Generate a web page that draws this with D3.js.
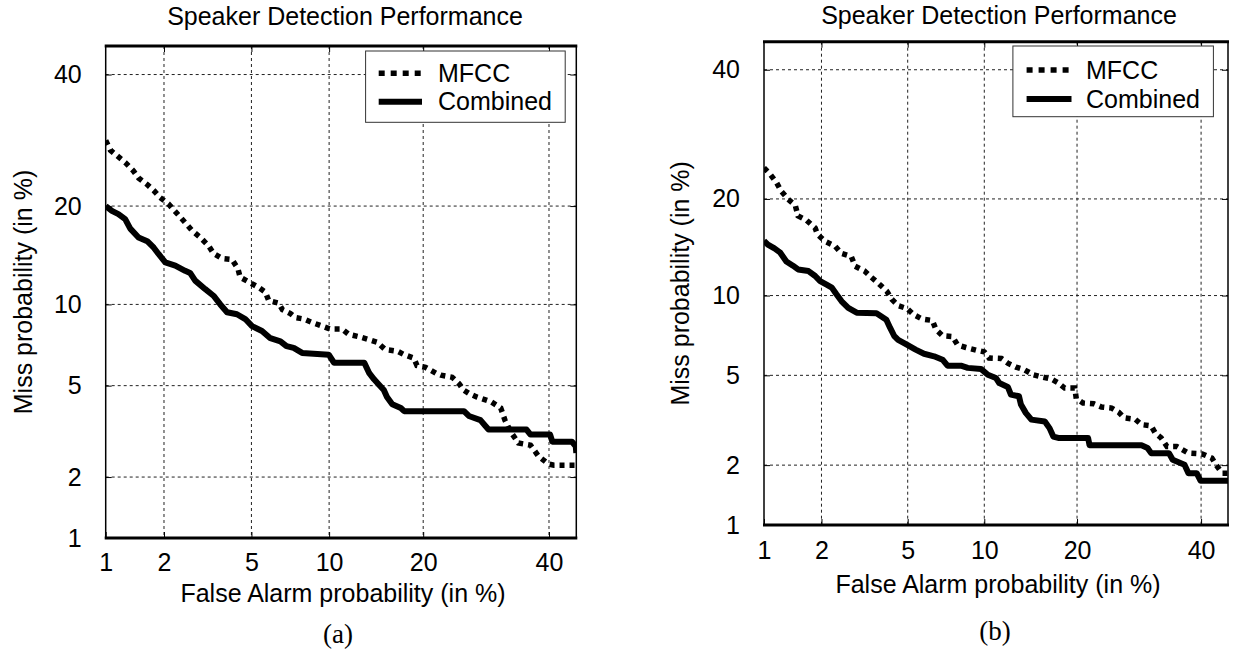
<!DOCTYPE html>
<html lang="en">
<head>
  <meta charset="UTF-8">
  <title>Speaker Detection Performance</title>
  <script src="https://cdn.jsdelivr.net/npm/d3@7"></script>
  <style>
    body { margin: 0; background: #fff; }
    svg { display: block; font-family: "Liberation Sans", Arial, Helvetica, sans-serif; }
    .tick text { font-size: 25px; fill: #000; }
    .grid line { stroke: #222; stroke-width: 1; stroke-dasharray: 3,3; }
  </style>
</head>
<body>
<svg id="chart" width="1233" height="656"></svg>
<script>
const tickValues = [1, 2, 5, 10, 20, 40];
const gridValues = [2, 5, 10, 20, 40];
const axisMin = 1, axisMax = 45;
const legendNames = ["MFCC", "Combined"];
const titleText = "Speaker Detection Performance";
const xLabelText = "False Alarm probability (in %)";
const yLabelText = "Miss probability (in %)";

// [false alarm %, miss %]
const mfccA = [[1.0,29.2],[1.06,27.7],[1.27,25.9],[1.40,24.7],[1.49,23.7],[1.65,22.8],[1.78,22.0],[1.91,21.1],[2.10,20.3],[2.20,19.7],[2.35,18.9],[2.53,18.0],[2.72,17.1],[2.98,16.3],[3.25,15.4],[3.42,14.6],[3.73,14.1],[4.13,14.0],[4.38,13.1],[4.48,12.3],[4.95,11.8],[5.36,11.4],[5.71,11.0],[5.89,10.3],[6.45,10.1],[6.68,9.6],[7.18,9.3],[7.51,9.0],[8.07,8.9],[8.68,8.65],[9.44,8.4],[10.1,8.2],[11.1,8.2],[11.7,7.85],[12.65,7.7],[13.7,7.5],[14.5,7.35],[15.4,6.9],[16.8,6.8],[17.6,6.6],[18.8,6.4],[19.2,6.0],[20.3,5.9],[21.7,5.6],[22.4,5.5],[24.0,5.4],[25.0,5.1],[25.7,4.8],[26.5,4.65],[27.7,4.5],[30.0,4.3],[31.6,4.05],[32.3,3.6],[33.3,3.2],[34.6,2.86],[36.7,2.8],[38.1,2.5],[39.9,2.3],[40.9,2.27],[45,2.27]];
const combinedA = [[1.0,20.0],[1.08,19.4],[1.17,19.0],[1.27,18.4],[1.35,17.3],[1.49,16.3],[1.65,15.9],[1.78,15.2],[1.88,14.55],[2.03,13.7],[2.27,13.4],[2.53,12.9],[2.67,12.7],[2.82,12.0],[3.14,11.25],[3.42,10.7],[3.67,10.0],[3.93,9.4],[4.34,9.25],[4.71,8.9],[5.03,8.4],[5.53,8.07],[5.98,7.6],[6.56,7.4],[6.93,7.1],[7.39,7.0],[7.96,6.7],[9.97,6.6],[10.4,6.15],[13.2,6.15],[13.7,5.6],[14.2,5.3],[14.7,5.05],[15.25,4.8],[15.6,4.5],[16.2,4.2],[17.2,4.05],[17.6,3.93],[25.75,3.93],[26.5,3.75],[28.3,3.6],[29.1,3.4],[29.6,3.28],[36.0,3.28],[36.7,3.12],[40.2,3.12],[40.6,2.9],[44.2,2.9],[44.9,2.77],[45,2.58]];
const mfccB = [[1.0,24.2],[1.08,23.3],[1.17,22.15],[1.24,21.0],[1.35,19.95],[1.47,19.2],[1.52,17.9],[1.68,17.4],[1.86,16.5],[1.91,15.8],[2.08,15.05],[2.33,14.55],[2.50,13.8],[2.79,13.5],[2.91,12.55],[3.22,12.1],[3.48,11.5],[3.73,11.0],[4.06,10.35],[4.27,9.7],[4.57,9.2],[4.97,9.0],[5.31,8.55],[5.75,8.25],[6.33,8.15],[6.54,7.55],[6.95,7.15],[7.6,7.1],[7.95,6.6],[8.55,6.45],[9.33,6.3],[10.0,6.2],[10.4,5.87],[11.5,5.84],[12.1,5.6],[12.9,5.4],[13.75,5.27],[14.7,5.03],[15.6,4.93],[16.75,4.83],[17.6,4.65],[18.4,4.43],[19.7,4.43],[19.9,4.0],[20.8,3.83],[22.3,3.8],[23.4,3.68],[24.9,3.64],[26.0,3.49],[26.8,3.3],[28.6,3.25],[29.6,3.08],[31.2,3.04],[31.9,2.82],[32.9,2.68],[33.9,2.45],[35.6,2.45],[37.7,2.28],[40.2,2.26],[42.0,2.16],[42.8,2.0],[43.9,1.83],[45,1.83]];
const combinedB = [[1.0,15.1],[1.05,14.7],[1.14,14.3],[1.22,13.9],[1.32,13.0],[1.43,12.6],[1.52,12.25],[1.72,12.1],[1.86,11.65],[1.97,11.2],[2.12,10.9],[2.25,10.65],[2.37,10.1],[2.51,9.55],[2.70,9.05],[2.96,8.7],[3.65,8.65],[4.04,8.2],[4.2,7.65],[4.37,7.15],[4.55,6.9],[4.98,6.6],[5.4,6.33],[5.85,6.1],[6.43,5.96],[6.95,5.78],[7.27,5.47],[8.19,5.47],[8.69,5.36],[9.72,5.31],[10.3,5.03],[11.0,4.88],[11.3,4.65],[12.1,4.48],[12.4,4.16],[13.2,4.09],[13.4,3.77],[13.9,3.47],[14.5,3.24],[16.0,3.18],[16.55,2.97],[17.0,2.72],[17.6,2.68],[21.5,2.68],[21.7,2.48],[29.6,2.48],[30.6,2.41],[31.2,2.28],[34.25,2.28],[34.9,2.12],[37.0,2.01],[37.7,1.83],[39.2,1.83],[39.9,1.68],[45,1.68]];

// inverse normal cdf (Acklam), DET plots use normal deviate axes
function probit(p) {
  const a = [-3.969683028665376e+01, 2.209460984245205e+02, -2.759285104469687e+02, 1.383577518672690e+02, -3.066479806614716e+01, 2.506628277459239e+00];
  const b = [-5.447609879822406e+01, 1.615858368580409e+02, -1.556989798598866e+02, 6.680131188771972e+01, -1.328068155288572e+01];
  const c = [-7.784894002430293e-03, -3.223964580411365e-01, -2.400758277161838e+00, -2.549732539343734e+00, 4.374664141464968e+00, 2.938163982698783e+00];
  const d = [7.784695709041462e-03, 3.224671290700398e-01, 2.445134137142996e+00, 3.754408661907416e+00];
  const pl = 0.02425;
  let q, r;
  if (p < pl) {
    q = Math.sqrt(-2 * Math.log(p));
    return (((((c[0]*q+c[1])*q+c[2])*q+c[3])*q+c[4])*q+c[5]) / ((((d[0]*q+d[1])*q+d[2])*q+d[3])*q+1);
  }
  if (p <= 1 - pl) {
    q = p - 0.5; r = q*q;
    return (((((a[0]*r+a[1])*r+a[2])*r+a[3])*r+a[4])*r+a[5])*q / (((((b[0]*r+b[1])*r+b[2])*r+b[3])*r+b[4])*r+1);
  }
  q = Math.sqrt(-2 * Math.log(1 - p));
  return -(((((c[0]*q+c[1])*q+c[2])*q+c[3])*q+c[4])*q+c[5]) / ((((d[0]*q+d[1])*q+d[2])*q+d[3])*q+1);
}
const z = v => probit(v / 100);

const panels = [
  { name: "a", left: 105.7, right: 576.3, top: 46, bottom: 538, mfcc: mfccA, combined: combinedA,
    titleX: 345, titleY: 25, xPad: 15, xLabelX: 343, xLabelY: 602, yLabelX: 32,
    caption: "(a)", captionX: 338, captionY: 643,
    legend: { x: 365.6, y: 51, w: 199.6, h: 71.3, x1: 378.7, x2: 422, tx: 438, rows: [73.3, 101.7] } },
  { name: "b", left: 764, right: 1228, top: 41.7, bottom: 525, mfcc: mfccB, combined: combinedB,
    titleX: 999, titleY: 24, xPad: 16, xLabelX: 998, xLabelY: 593, yLabelX: 689,
    caption: "(b)", captionX: 995, captionY: 640,
    legend: { x: 1012.9, y: 46, w: 200.5, h: 70.7, x1: 1026.6, x2: 1071.5, tx: 1086, rows: [70, 99] } }
];

const svg = d3.select("#chart");

panels.forEach(p => {
  const x = d3.scaleLinear().domain([z(axisMin), z(axisMax)]).range([p.left, p.right]);
  const y = d3.scaleLinear().domain([z(axisMin), z(axisMax)]).range([p.bottom, p.top]);
  const w = p.right - p.left, h = p.bottom - p.top;
  const g = svg.append("g");

  svg.append("clipPath").attr("id", "clip-" + p.name)
    .append("rect").attr("x", p.left).attr("y", p.top).attr("width", w).attr("height", h);

  // dashed grid
  g.append("g").attr("class", "grid")
    .selectAll("line.vx").data(gridValues).enter().append("line")
    .attr("x1", d => x(z(d))).attr("x2", d => x(z(d)))
    .attr("y1", p.top).attr("y2", p.bottom);
  g.append("g").attr("class", "grid")
    .selectAll("line.hy").data(gridValues).enter().append("line")
    .attr("y1", d => y(z(d))).attr("y2", d => y(z(d)))
    .attr("x1", p.left).attr("x2", p.right);

  // tick labels (ticks point inward like matlab)
  const xAxis = d3.axisBottom(x).tickValues(tickValues.map(z))
    .tickFormat((d, i) => tickValues[i]).tickSizeInner(-6).tickSizeOuter(0).tickPadding(p.xPad);
  const yAxis = d3.axisLeft(y).tickValues(tickValues.map(z))
    .tickFormat((d, i) => tickValues[i]).tickSizeInner(-6).tickSizeOuter(0).tickPadding(24);
  const gx = g.append("g").attr("transform", `translate(0,${p.bottom})`).call(xAxis);
  const gy = g.append("g").attr("transform", `translate(${p.left},0)`).call(yAxis);
  [gx, gy].forEach(a => {
    a.select(".domain").remove();
    a.selectAll(".tick line").attr("stroke", "#000");
    a.attr("font-family", null).attr("font-size", null);
  });
  g.append("g").attr("transform", `translate(0,${p.top})`)
    .call(d3.axisTop(x).tickValues(gridValues.map(z)).tickFormat("").tickSizeInner(-6).tickSizeOuter(0))
    .call(a => a.select(".domain").remove());
  g.append("g").attr("transform", `translate(${p.right},0)`)
    .call(d3.axisRight(y).tickValues(gridValues.map(z)).tickFormat("").tickSizeInner(-6).tickSizeOuter(0))
    .call(a => a.select(".domain").remove());

  // curves
  const line = d3.line().x(d => x(z(d[0]))).y(d => y(z(d[1])));
  const curves = g.append("g").attr("clip-path", `url(#clip-${p.name})`);
  curves.append("path").datum(p.combined).attr("d", line)
    .attr("fill", "none").attr("stroke", "#000").attr("stroke-width", 6)
    .attr("stroke-linejoin", "round");
  curves.append("path").datum(p.mfcc).attr("d", line)
    .attr("fill", "none").attr("stroke", "#000").attr("stroke-width", 5.5)
    .attr("stroke-dasharray", "5,5");

  // frame
  g.append("line").attr("x1", p.left).attr("x2", p.left).attr("y1", p.top).attr("y2", p.bottom)
    .attr("stroke", "#000").attr("stroke-width", 1.5);
  g.append("line").attr("x1", p.right).attr("x2", p.right).attr("y1", p.top).attr("y2", p.bottom)
    .attr("stroke", "#000").attr("stroke-width", 1.5);
  g.append("line").attr("x1", p.left - 1).attr("x2", p.right + 1).attr("y1", p.top).attr("y2", p.top)
    .attr("stroke", "#000").attr("stroke-width", 3);
  g.append("line").attr("x1", p.left - 1).attr("x2", p.right + 1).attr("y1", p.bottom).attr("y2", p.bottom)
    .attr("stroke", "#000").attr("stroke-width", 3);

  // legend
  const L = p.legend;
  g.append("rect").attr("x", L.x).attr("y", L.y).attr("width", L.w).attr("height", L.h)
    .attr("fill", "#fff").attr("stroke", "#333").attr("stroke-width", 1);
  legendNames.forEach((name, i) => {
    g.append("line").attr("x1", L.x1).attr("x2", L.x2).attr("y1", L.rows[i]).attr("y2", L.rows[i])
      .attr("stroke", "#000").attr("stroke-width", i === 0 ? 5.5 : 6)
      .attr("stroke-dasharray", i === 0 ? "6,6" : null);
    g.append("text").attr("x", L.tx).attr("y", L.rows[i]).attr("dy", "0.35em")
      .attr("font-size", 25).text(name);
  });

  // titles and labels
  g.append("text").attr("x", p.titleX).attr("y", p.titleY).attr("text-anchor", "middle")
    .attr("font-size", 25).text(titleText);
  g.append("text").attr("x", p.xLabelX).attr("y", p.xLabelY).attr("text-anchor", "middle")
    .attr("font-size", 25).text(xLabelText);
  g.append("text").attr("transform", `translate(${p.yLabelX},${(p.top + p.bottom) / 2}) rotate(-90)`)
    .attr("text-anchor", "middle").attr("font-size", 25).text(yLabelText);
  g.append("text").attr("x", p.captionX).attr("y", p.captionY).attr("text-anchor", "middle")
    .attr("font-family", "'Liberation Serif', 'Times New Roman', serif").attr("font-size", 27)
    .text(p.caption);
});
</script>
</body>
</html>
